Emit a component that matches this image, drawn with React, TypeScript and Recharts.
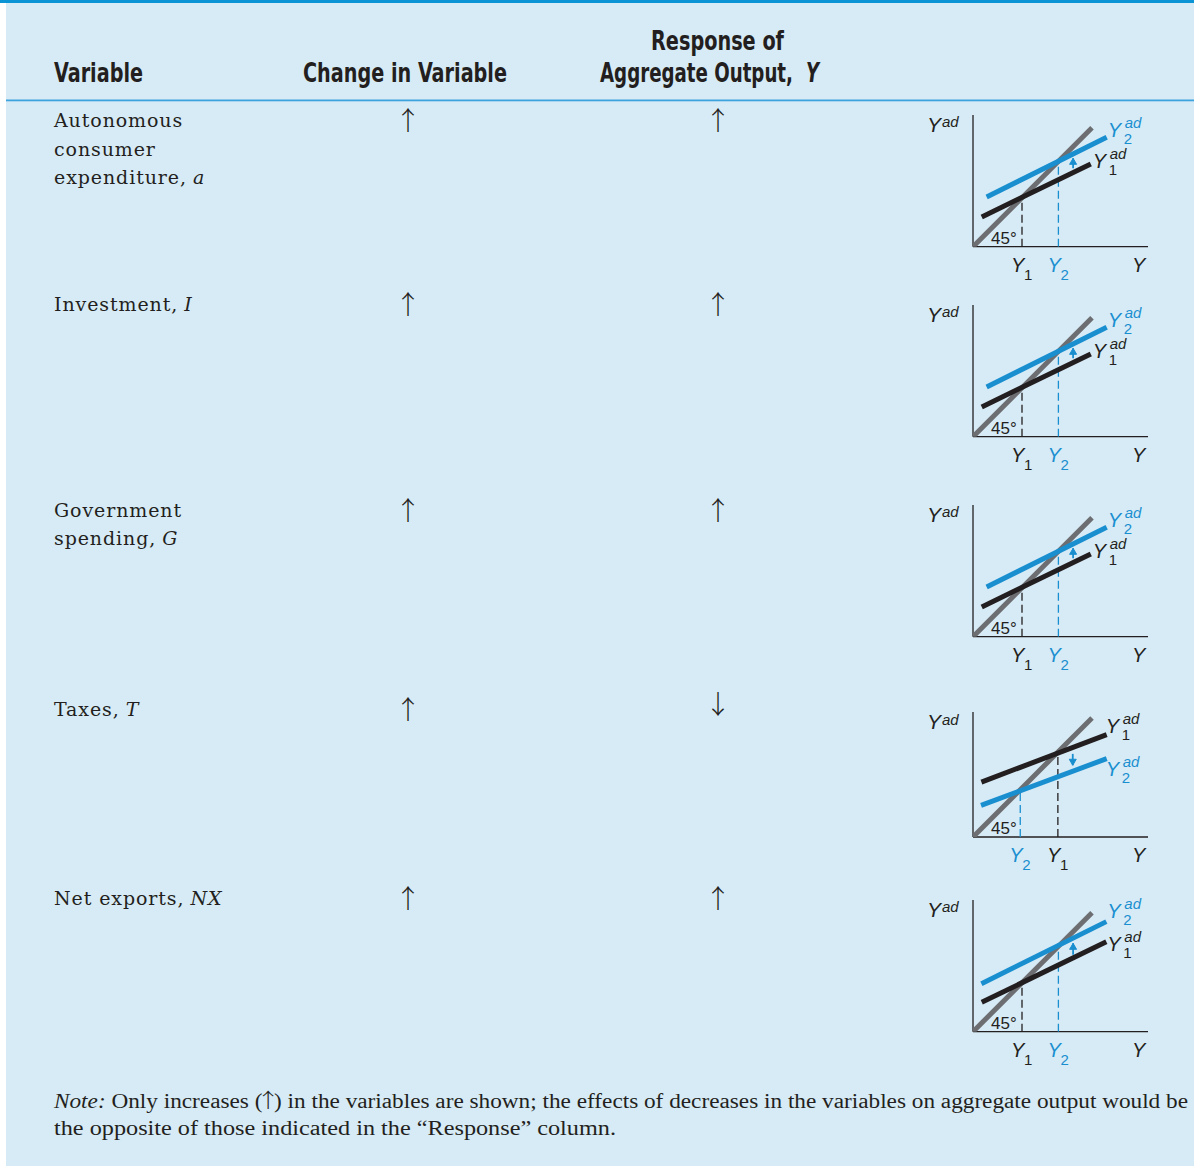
import React from 'react';
import { LineChart, Line, XAxis, YAxis, ReferenceDot, ReferenceLine } from 'recharts';

// ---- table data ----
const VARIABLE_LINES = [
  ['Autonomous', 'consumer', 'expenditure,'],
  ['Investment,'],
  ['Government', 'spending,'],
  ['Taxes,'],
  ['Net exports,'],
];
const VARIABLE_SYMBOLS = ['a', 'I', 'G', 'T', 'NX'];
const CHANGE_DIR = ['up', 'up', 'up', 'up', 'up'];
const RESPONSE_DIR = ['up', 'up', 'up', 'down', 'up'];

// ---- diagram data (x: aggregate output Y, y: Y^ad) ----
const LINE_45 = [
  { x: 0, y: 0 },
  { x: 6.8, y: 6.8 },
];
const AD1_LINES = [
  [{ x: 0.5, y: 1.7 }, { x: 6.73, y: 4.73 }],
  [{ x: 0.5, y: 1.7 }, { x: 6.73, y: 4.73 }],
  [{ x: 0.5, y: 1.7 }, { x: 6.73, y: 4.73 }],
  [{ x: 0.48, y: 3.14 }, { x: 7.64, y: 5.85 }],
  [{ x: 0.5, y: 1.68 }, { x: 7.62, y: 5.14 }],
];
const AD2_LINES = [
  [{ x: 0.78, y: 2.84 }, { x: 7.64, y: 6.25 }],
  [{ x: 0.78, y: 2.84 }, { x: 7.64, y: 6.25 }],
  [{ x: 0.78, y: 2.84 }, { x: 7.64, y: 6.25 }],
  [{ x: 0.46, y: 1.81 }, { x: 7.64, y: 4.48 }],
  [{ x: 0.48, y: 2.74 }, { x: 7.62, y: 6.29 }],
];
const EQ_Y1 = [2.8, 2.8, 2.8, 4.85, 2.8];
const EQ_Y2 = [4.88, 4.88, 4.88, 2.7, 4.88];
const SHIFT_X = [5.72, 5.72, 5.72, 5.7, 5.72];
const SHIFT_FROM = [4.48, 4.48, 4.48, 4.75, 4.4];
const SHIFT_TO = [5.05, 5.05, 5.05, 4.1, 5.05];

// ---- layout / style ----
const INK = '#231f20';
const BLUE = '#1a8fd0';
const GRAY45 = '#6d6e71';
const PANEL = '#d7ebf6';
const SANS = "'Liberation Sans', Arial, sans-serif";
const SERIF = "'DejaVu Serif', serif";
const NOTE_SERIF = "'Liberation Serif', serif";
const ARROW_FONT = "'Noto Sans CJK JP', 'Noto Sans CJK SC', 'DejaVu Sans', sans-serif";
const HEAD = "'Liberation Sans Narrow', 'DejaVu Sans Condensed', 'DejaVu Sans', sans-serif";

const ROW_TEXT_BASE = [127, 310.5, 516.7, 716, 905];
const LINE_STEP = 28.5;
const AXIS_TOP = [115, 305, 505, 711.7, 900];
const AXIS_Y = [246.7, 436.7, 636.7, 836.7, 1031.7];
const PLOT_LEFT = 973;
const PLOT_W = 175;
const PX_PER_UNIT = 17.5;
// label offsets (px) from the end of each Y^ad line
const AD1_LABEL = [[2, 4], [2, 4], [2, 4], [-1, -2], [1, 9]];
const AD2_LABEL = [[1, 0], [1, 0], [1, 0], [-1, 17], [1, -4]];

function YLabel({ x, y, sup, sub, color }: any) {
  return (
    <g fill={color} fontFamily={SANS}>
      <text x={x} y={y} fontSize={20} fontStyle="italic">Y</text>
      {sup && <text x={x + 17} y={y - 9} fontSize={15} fontStyle="italic">{sup}</text>}
      {sub && <text x={x + 16} y={y + 7} fontSize={15}>{sub}</text>}
    </g>
  );
}

function AxisYLabel({ x, y, sub, color }: any) {
  return (
    <g fill={color} fontFamily={SANS}>
      <text x={x} y={y} fontSize={20} fontStyle="italic">Y</text>
      {sub && <text x={x + 13} y={y + 8} fontSize={15}>{sub}</text>}
    </g>
  );
}

function Diagram({ row }: { row: number }) {
  const top = AXIS_TOP[row];
  const plotH = AXIS_Y[row] - top;
  const yMax = plotH / PX_PER_UNIT;
  const m = { top: 30, left: 73, right: 46, bottom: 50 };
  const w = m.left + PLOT_W + m.right;
  const h = m.top + plotH + m.bottom;
  const ad1 = AD1_LINES[row];
  const ad2 = AD2_LINES[row];
  const up = SHIFT_TO[row] > SHIFT_FROM[row];

  const arrowHead = (p: any) => {
    if (p.index !== 1) return <g key={`d${p.index}`} />;
    const d = up ? 6 : -6;
    return (
      <path
        key="head"
        d={`M${p.cx - 3.5},${p.cy + d} L${p.cx},${p.cy} L${p.cx + 3.5},${p.cy + d} Z`}
        fill={BLUE}
        stroke={BLUE}
        strokeWidth={1}
      />
    );
  };

  return (
    <div style={{ position: 'absolute', left: PLOT_LEFT - m.left, top: top - m.top }}>
      <LineChart width={w} height={h} margin={m}>
        <XAxis type="number" dataKey="x" domain={[0, 10]} hide allowDataOverflow />
        <YAxis type="number" domain={[0, yMax]} hide allowDataOverflow />

        {/* axes */}
        <ReferenceLine x={0} stroke={INK} strokeWidth={1.3} ifOverflow="visible" />
        <ReferenceLine y={0} stroke={INK} strokeWidth={1.3} ifOverflow="visible" />

        <Line
          data={[{ x: EQ_Y1[row], y: 0 }, { x: EQ_Y1[row], y: EQ_Y1[row] }]}
          dataKey="y"
          stroke={INK}
          strokeWidth={1.3}
          strokeDasharray="8 4"
          dot={false}
          activeDot={false}
          isAnimationActive={false}
        />
        <Line
          data={[{ x: EQ_Y2[row], y: 0 }, { x: EQ_Y2[row], y: EQ_Y2[row] }]}
          dataKey="y"
          stroke={BLUE}
          strokeWidth={1.3}
          strokeDasharray="8 4"
          dot={false}
          activeDot={false}
          isAnimationActive={false}
        />
        <Line data={LINE_45} dataKey="y" stroke={GRAY45} strokeWidth={5} dot={false} activeDot={false} isAnimationActive={false} />
        <Line data={ad1} dataKey="y" stroke={INK} strokeWidth={5} dot={false} activeDot={false} isAnimationActive={false} />
        <Line data={ad2} dataKey="y" stroke={BLUE} strokeWidth={5} dot={false} activeDot={false} isAnimationActive={false} />
        <Line
          data={[{ x: SHIFT_X[row], y: SHIFT_FROM[row] }, { x: SHIFT_X[row], y: SHIFT_TO[row] }]}
          dataKey="y"
          stroke={BLUE}
          strokeWidth={1.8}
          dot={arrowHead}
          activeDot={false}
          isAnimationActive={false}
        />

        {/* axis titles */}
        <ReferenceDot
          x={0}
          y={yMax}
          r={0}
          ifOverflow="visible"
          shape={(p: any) => (
            <g fill={INK} fontFamily={SANS}>
              <text x={p.cx - 46} y={p.cy + 17} fontSize={21} fontStyle="italic">Y</text>
              <text x={p.cx - 31} y={p.cy + 12.5} fontSize={15} fontStyle="italic">ad</text>
            </g>
          )}
        />
        <ReferenceDot
          x={0}
          y={0}
          r={0}
          ifOverflow="visible"
          shape={(p: any) => (
            <text x={p.cx + 18} y={p.cy - 3} fontSize={17} fontFamily={SANS} fill={INK}>
              45°
            </text>
          )}
        />
        <ReferenceDot
          x={10}
          y={0}
          r={0}
          ifOverflow="visible"
          shape={(p: any) => <AxisYLabel x={p.cx - 16} y={p.cy + 25} color={INK} />}
        />
        <ReferenceDot
          x={EQ_Y1[row]}
          y={0}
          r={0}
          ifOverflow="visible"
          shape={(p: any) => <AxisYLabel x={p.cx - 11} y={p.cy + 25} sub="1" color={INK} />}
        />
        <ReferenceDot
          x={EQ_Y2[row]}
          y={0}
          r={0}
          ifOverflow="visible"
          shape={(p: any) => <AxisYLabel x={p.cx - 11} y={p.cy + 25} sub="2" color={BLUE} />}
        />

        {/* curve labels */}
        <ReferenceDot
          x={ad1[1].x}
          y={ad1[1].y}
          r={0}
          ifOverflow="visible"
          shape={(p: any) => (
            <YLabel x={p.cx + AD1_LABEL[row][0]} y={p.cy + AD1_LABEL[row][1]} sup="ad" sub="1" color={INK} />
          )}
        />
        <ReferenceDot
          x={ad2[1].x}
          y={ad2[1].y}
          r={0}
          ifOverflow="visible"
          shape={(p: any) => (
            <YLabel x={p.cx + AD2_LABEL[row][0]} y={p.cy + AD2_LABEL[row][1]} sup="ad" sub="2" color={BLUE} />
          )}
        />
      </LineChart>
    </div>
  );
}

function Arrow({ x, base, dir }: { x: number; base: number; dir: string }) {
  return (
    <text x={x} y={base} fontFamily={ARROW_FONT} fontSize={26} fontWeight={300} textAnchor="middle" fill={INK}>
      {dir === 'up' ? '↑' : '↓'}
    </text>
  );
}

export default function App() {
  return (
    <div style={{ position: 'absolute', left: 0, top: 0, width: 1194, height: 1166, background: '#fff' }}>
      <svg width={1194} height={1166} style={{ position: 'absolute', left: 0, top: 0 }}>
        <rect x={6} y={0} width={1188} height={1166} fill={PANEL} />
        <rect x={0} y={0} width={1194} height={3} fill="#0a94d6" />
        <rect x={6} y={99.5} width={1188} height={1.8} fill="#3ea2dc" />

        <g fontFamily={HEAD} fontWeight={700} fontSize={27} fill={INK}>
          <text x={54} y={82} textLength={89} lengthAdjust="spacingAndGlyphs">Variable</text>
          <text x={303} y={82} textLength={204} lengthAdjust="spacingAndGlyphs">Change in Variable</text>
          <text x={651} y={50} textLength={133} lengthAdjust="spacingAndGlyphs">Response of</text>
          <text x={600} y={82} textLength={193} lengthAdjust="spacingAndGlyphs">Aggregate Output,</text>
          <text x={806} y={82} fontStyle="italic" textLength={13} lengthAdjust="spacingAndGlyphs">Y</text>
        </g>

        <g fontFamily={SERIF} fontSize={19} fill={INK} letterSpacing={0.9}>
          {VARIABLE_LINES.map((lines, r) =>
            lines.map((ln, i) => (
              <text key={`${r}-${i}`} x={54} y={ROW_TEXT_BASE[r] + i * LINE_STEP}>
                {ln}
                {i === lines.length - 1 && (
                  <tspan dx={6} fontStyle="italic">
                    {VARIABLE_SYMBOLS[r]}
                  </tspan>
                )}
              </text>
            ))
          )}
        </g>

        {CHANGE_DIR.map((d, r) => (
          <Arrow key={`c${r}`} x={408} base={ROW_TEXT_BASE[r] + 3} dir={d} />
        ))}
        {RESPONSE_DIR.map((d, r) => (
          <Arrow key={`r${r}`} x={718} base={ROW_TEXT_BASE[r] + (d === 'up' ? 3 : -2)} dir={d} />
        ))}

        <g fontFamily={NOTE_SERIF} fontSize={20} fill={INK}>
          <text x={54} y={1108} textLength={1134} lengthAdjust="spacingAndGlyphs">
            <tspan fontStyle="italic">Note:</tspan> Only increases (
            <tspan dx={-5} fontFamily={ARROW_FONT} fontWeight={300}>↑</tspan>
            <tspan dx={-5}>) in the variables are shown; the effects of decreases in the variables on aggregate output would be</tspan>
          </text>
          <text x={54} y={1135} textLength={562} lengthAdjust="spacingAndGlyphs">
            the opposite of those indicated in the “Response” column.
          </text>
        </g>
      </svg>

      {VARIABLE_LINES.map((_, r) => (
        <Diagram key={r} row={r} />
      ))}
    </div>
  );
}
